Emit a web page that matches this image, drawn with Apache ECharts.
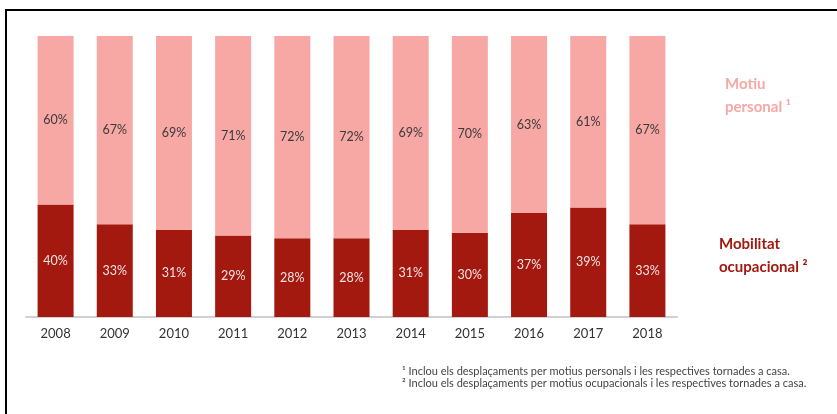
<!DOCTYPE html>
<html>
<head>
<meta charset="utf-8">
<script src="https://cdn.jsdelivr.net/npm/echarts@6/dist/echarts.min.js"></script>
<style>html,body{margin:0;padding:0;background:#fff;}#c{width:837px;height:414px;}</style>
</head>
<body>
<div id="c"></div>
<script>
var years = ['2008','2009','2010','2011','2012','2013','2014','2015','2016','2017','2018'];
var ocupacional = [40,33,31,29,28,28,31,30,37,39,33];
var personal = [60,67,69,71,72,72,69,70,63,61,67];
var legendPersonal = ['Motiu', 'personal ¹'];
var legendOcupacional = ['Mobilitat', 'ocupacional ²'];
var notes = [
  '¹ Inclou els desplaçaments per motius personals i les respectives tornades a casa.',
  '² Inclou els desplaçaments per motius ocupacionals i les respectives tornades a casa.'
];

var PINK = '#F7A8A4', DARK = '#A3180F';
var FONT = 'Lato';
var chart = echarts.init(document.getElementById('c'));
chart.setOption({
  animation: false,
  grid: {left: 26, right: 160, top: 36, bottom: 97},
  xAxis: {
    type: 'category', data: years,
    axisLine: {lineStyle: {color: '#d0d0d0', width: 2}},
    axisTick: {show: false},
    axisLabel: {color: '#333', fontSize: 13, fontFamily: FONT, margin: 10}
  },
  yAxis: {type: 'value', min: 0, max: 100, show: false},
  series: [
    {
      type: 'bar', stack: 's', data: ocupacional, barWidth: 36,
      itemStyle: {color: DARK},
      label: {show: true, position: 'inside', formatter: '{c}%', color: '#F3E3E3', fontSize: 12.5, fontFamily: FONT}
    },
    {
      type: 'bar', stack: 's', data: personal, barWidth: 36,
      itemStyle: {color: PINK},
      label: {show: true, position: 'inside', formatter: '{c}%', color: '#3a3a3a', fontSize: 12.5, fontFamily: FONT}
    }
  ],
  graphic: [
    {type: 'rect', shape: {x: 6, y: 10, width: 900, height: 500}, style: {fill: 'none', stroke: '#000', lineWidth: 2}, silent: true},
    {type: 'text', left: 725, top: 73, style: {text: legendPersonal.join('\n'), fill: PINK, font: 'bold 15px ' + FONT, lineHeight: 23}},
    {type: 'text', left: 719, top: 233, style: {text: legendOcupacional.join('\n'), fill: DARK, font: 'bold 15px ' + FONT, lineHeight: 23}},
    {type: 'text', left: 402, top: 365, style: {text: notes.join('\n'), fill: '#444', font: '11px ' + FONT, lineHeight: 12}}
  ]
});
</script>
</body>
</html>
